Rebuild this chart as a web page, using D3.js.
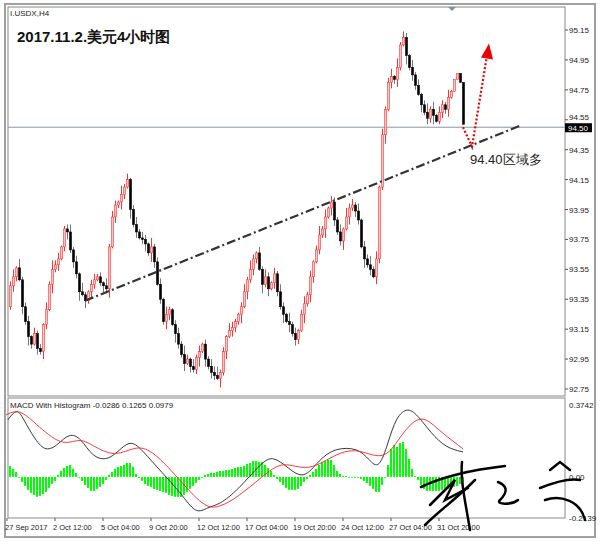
<!DOCTYPE html>
<html><head><meta charset="utf-8">
<script src="https://cdn.jsdelivr.net/npm/d3@7"></script>
<style>body{margin:0;background:#fff}text{font-family:"Liberation Sans",Arial,sans-serif}</style>
</head><body><svg id="c" width="600" height="542"></svg>
<script>
// ---- data ----
const firstOpen = 93.30;
const closes = [93.44,93.50,93.56,93.48,93.30,93.20,93.10,93.05,93.12,93.02,93.00,93.18,93.28,93.45,93.55,93.58,93.62,93.70,93.82,93.80,
93.68,93.60,93.52,93.40,93.38,93.34,93.40,93.45,93.48,93.50,93.46,93.44,93.42,93.70,93.90,93.98,94.00,94.05,94.10,94.15,
93.95,93.85,93.80,93.76,93.75,93.72,93.66,93.70,93.60,93.45,93.35,93.20,93.25,93.28,93.18,93.12,93.05,92.98,92.92,92.95,
92.90,92.88,92.96,93.00,93.05,92.95,92.90,92.86,92.84,92.82,92.86,93.00,93.10,93.14,93.16,93.20,93.25,93.30,93.40,93.48,
93.55,93.62,93.66,93.55,93.45,93.50,93.42,93.46,93.52,93.40,93.30,93.25,93.20,93.18,93.12,93.08,93.14,93.25,93.32,93.38,
93.50,93.60,93.68,93.78,93.82,93.90,93.96,94.00,93.88,93.80,93.74,93.82,93.90,93.96,93.98,93.94,93.88,93.70,93.62,93.58,
93.55,93.50,93.62,94.10,94.45,94.62,94.80,94.84,94.82,94.90,95.05,95.10,94.98,94.90,94.85,94.78,94.72,94.65,94.60,94.56,
94.62,94.58,94.54,94.60,94.65,94.62,94.70,94.74,94.82,94.86,94.80,94.52];
// wick extensions in hundredths (upper / lower), one digit per bar
const upWick  = "3516234142315263412352416213423152431624135243162341521342631524132546231542135263142531425316241352413625143251634251436251423516243152413625143251";
const lowWick = "2431526314253162413524361524312536142531624135264132541632514236152431625143261524316251432615243162541326154236152431624153261435216243152436124351";
const priceTicks = [95.15,94.95,94.75,94.55,94.35,94.15,93.95,93.75,93.55,93.35,93.15,92.95,92.75];
const lastPrice = 94.50;
const trend = [{i:25, p:93.34},{i:170, p:94.51}];
const macdPts = [[-0.7,.297],[2.3,.359],[4.3,.307],[8.3,.193],[12,.130],[16,.167],[19.7,.229],[23.7,.203],[27.3,.104],[33.3,.078],[39.7,.203],[44,.141],[50.7,.021],[57,-.083],[62,-.198],[66,-.156],[69.7,-.146],[76,-.068],[84,.078],[87.7,.109],[92.7,.047],[98,-.016],[103,.089],[108.3,.151],[116,.151],[119.7,.089],[123,.036],[126,.177],[128.7,.313],[132.7,.365],[136.3,.313],[140.3,.229],[145.3,.151],[151,.130]];
const signalPts = [[-1.3,.323],[3,.354],[8.3,.281],[17.3,.156],[23,.203],[27.3,.167],[35,.099],[42.3,.167],[48,.130],[55.7,0],[64.7,-.161],[69.7,-.161],[76,-.104],[84,0],[91,.089],[99.3,.021],[109.3,.130],[116.7,.146],[125,.078],[130.7,.229],[137,.333],[142.7,.245],[151,.146]];
// histogram in units of 0.0052
const histRaw = [11,8,5,0,-5,-9,-13,-16,-18,-20,-19,-17,-15,-11,-7,-4,2,6,9,11,12,8,4,0,-4,-8,-11,-14,-14,-12,-10,-7,-3,2,5,8,10,11,12,14,
14,10,3,-1,-4,-7,-9,-10,-12,-13,-14,-15,-16,-18,-19,-20,-20,-20,-18,-15,-12,-9,-6,-3,-1,2,3,4,4,5,6,6,7,7,8,9,10,10,11,13,
14,16,16,15,15,12,9,6,2,-2,-5,-8,-11,-13,-13,-13,-12,-9,-5,-2,2,5,8,12,15,16,17,17,12,6,3,1,1,0,0,0,0,-2,-4,-6,-9,-12,-15,-15,
-8,0,12,28,32,30,34,35,28,18,8,1,-3,-8,-12,-14,-14,-14,-14,-14,-13,-13,-12,-11,-10,-9,-7,-5];
const hist = histRaw.map(v=>v*0.0052);
const macdTicks = [0.3742, 0.00, -0.2139];
const dateLabels = [{i:-1,t:"27 Sep 2017"},{i:15,t:"2 Oct 12:00"},{i:31,t:"5 Oct 04:00"},{i:47,t:"9 Oct 20:00"},{i:63,t:"12 Oct 12:00"},{i:79,t:"17 Oct 04:00"},{i:95,t:"19 Oct 20:00"},{i:111,t:"24 Oct 12:00"},{i:127,t:"27 Oct 04:00"},{i:143,t:"31 Oct 20:00"}];
const arrowPts = [{i:151,p:94.50},{i:154,p:94.37},{i:159,p:94.98}];

// ---- layout ----
const svg = d3.select("#c");
const L=8,R=565,T=7,B=396,MT=398,MB=518;
const x = d3.scaleLinear().domain([0,151]).range([10,463]);
const y = d3.scaleLinear().domain([92.75,95.15]).range([389,30]);
const ym = d3.scaleLinear().domain([-0.2139,0.3742]).range([518,405]);

svg.append("rect").attr("x",5).attr("y",4).attr("width",590).attr("height",533).attr("fill","none").attr("stroke","#a0a0a0").attr("stroke-width",2);
svg.append("rect").attr("x",L).attr("y",T).attr("width",R-L).attr("height",B-T).attr("fill","#fff").attr("stroke","#888");
svg.append("rect").attr("x",L).attr("y",MT).attr("width",R-L).attr("height",MB-MT).attr("fill","#fff").attr("stroke","#888");
svg.append("path").attr("d",`M448,7 L456,7 L452,11 Z`).attr("fill","#8090a0");

// price axis
const pa = svg.append("g");
priceTicks.forEach(p=>{
  const yy = y(p) + (p===94.55 ? -3 : 0);
  pa.append("line").attr("x1",R).attr("x2",R+3).attr("y1",y(p)).attr("y2",y(p)).attr("stroke","#555");
  pa.append("text").attr("x",R+4).attr("y",yy+3).attr("font-size",8).attr("fill","#222").text(p.toFixed(2));
});
// last price line
svg.append("line").attr("x1",L).attr("x2",R).attr("y1",y(lastPrice)).attr("y2",y(lastPrice)).attr("stroke","#8a96a6");
svg.append("rect").attr("x",R).attr("y",y(lastPrice)-4).attr("width",27).attr("height",9).attr("fill","#000");
svg.append("text").attr("x",R+3).attr("y",y(lastPrice)+4).attr("font-size",8).attr("fill","#fff").text(lastPrice.toFixed(2));

// candles
const bars = closes.map((c,i)=>{
  const o = i===0?firstOpen:closes[i-1];
  return {i,o,c,h:Math.max(o,c)+(+upWick[i])*0.01,l:Math.min(o,c)-(+lowWick[i])*0.01};
});
const cg = svg.append("g");
bars.forEach(b=>{
  const up = b.c>=b.o, xc=Math.round(x(b.i))+0.5;
  cg.append("line").attr("x1",xc).attr("x2",xc).attr("y1",y(b.h)).attr("y2",y(b.l)).attr("stroke",up?"#ff3030":"#777");
  const top=y(Math.max(b.o,b.c)), hgt=Math.max(1,Math.abs(y(b.o)-y(b.c)));
  cg.append("rect").attr("x",xc-1).attr("y",top).attr("width",2).attr("height",hgt)
    .attr("fill",up?"#ffc8c8":"#000").attr("stroke",up?"#ff3030":"#000").attr("stroke-width",0.6);
});

// trend line
svg.append("line").attr("x1",x(trend[0].i)).attr("y1",y(trend[0].p)).attr("x2",x(trend[1].i)).attr("y2",y(trend[1].p))
  .attr("stroke","#333").attr("stroke-width",2.2).attr("stroke-dasharray","9,3,2,3");
// red arrow
svg.append("path").attr("d",d3.line().x(d=>x(d.i)).y(d=>y(d.p))(arrowPts)).attr("fill","none")
  .attr("stroke","#e00").attr("stroke-width",2.2).attr("stroke-dasharray","2,2");
const ax=x(arrowPts[2].i), ay=y(arrowPts[2].p);
svg.append("path").attr("d",`M${ax-6},${ay+2} L${ax+2},${ay-12} L${ax+6},${ay+4} Z`).attr("fill","#e00");
svg.append("text").attr("x",470).attr("y",164).attr("font-size",13).attr("fill","#222").attr("font-family","'Noto Sans CJK SC',sans-serif").text("94.40区域多");

// titles
svg.append("text").attr("x",10).attr("y",16).attr("font-size",8).attr("fill","#222").text("I.USDX,H4");
svg.append("text").attr("x",17).attr("y",42).attr("font-size",15).attr("font-weight","bold").attr("fill","#111").attr("font-family","'Noto Sans CJK SC',sans-serif").text("2017.11.2.美元4小时图");

// MACD
const mg = svg.append("g");
hist.forEach((v,i)=>{
  mg.append("rect").attr("x",Math.round(x(i))-1).attr("width",2).attr("y",Math.min(ym(v),ym(0))).attr("height",Math.max(0.8,Math.abs(ym(v)-ym(0)))).attr("fill","#00ff00");
});
const ln = d3.line().x(d=>x(d[0])).y(d=>ym(d[1])).curve(d3.curveBasis);
mg.append("path").attr("d",ln(macdPts)).attr("fill","none").attr("stroke","#222").attr("stroke-width",0.9);
mg.append("path").attr("d",ln(signalPts)).attr("fill","none").attr("stroke","#f22").attr("stroke-width",0.9);
svg.append("text").attr("x",10).attr("y",408).attr("font-size",8).attr("fill","#222").text("MACD With Histogram -0.0286 0.1265 0.0979");
macdTicks.forEach(v=>{
  svg.append("text").attr("x",R+4).attr("y",ym(v)+3).attr("font-size",8).attr("fill","#222").text(v===0?"0.00":v.toFixed(4));
});
// date axis
dateLabels.forEach(d=>{
  const xx=x(d.i);
  svg.append("line").attr("x1",xx).attr("x2",xx).attr("y1",MB).attr("y2",MB+3).attr("stroke","#555");
  svg.append("text").attr("x",xx-2).attr("y",530).attr("font-size",7.5).attr("fill","#222").text(d.t);
});
// handwritten signature
const sig = svg.append("g").attr("fill","none").attr("stroke","#000").attr("stroke-width",2.5).attr("stroke-linecap","round");
["M421,487 C440,478 470,470 505,466","M462,462 C460,480 466,505 470,530","M430,505 L455,480 L445,500 L468,488","M425,525 C440,510 455,500 475,480",
 "M498,482 C505,485 510,490 500,500 C495,505 512,505 518,500","M550,470 L560,462 L570,470","M540,488 C555,482 570,478 580,480","M545,500 C560,495 580,500 585,520"]
 .forEach(d=>sig.append("path").attr("d",d));
</script></body></html>
